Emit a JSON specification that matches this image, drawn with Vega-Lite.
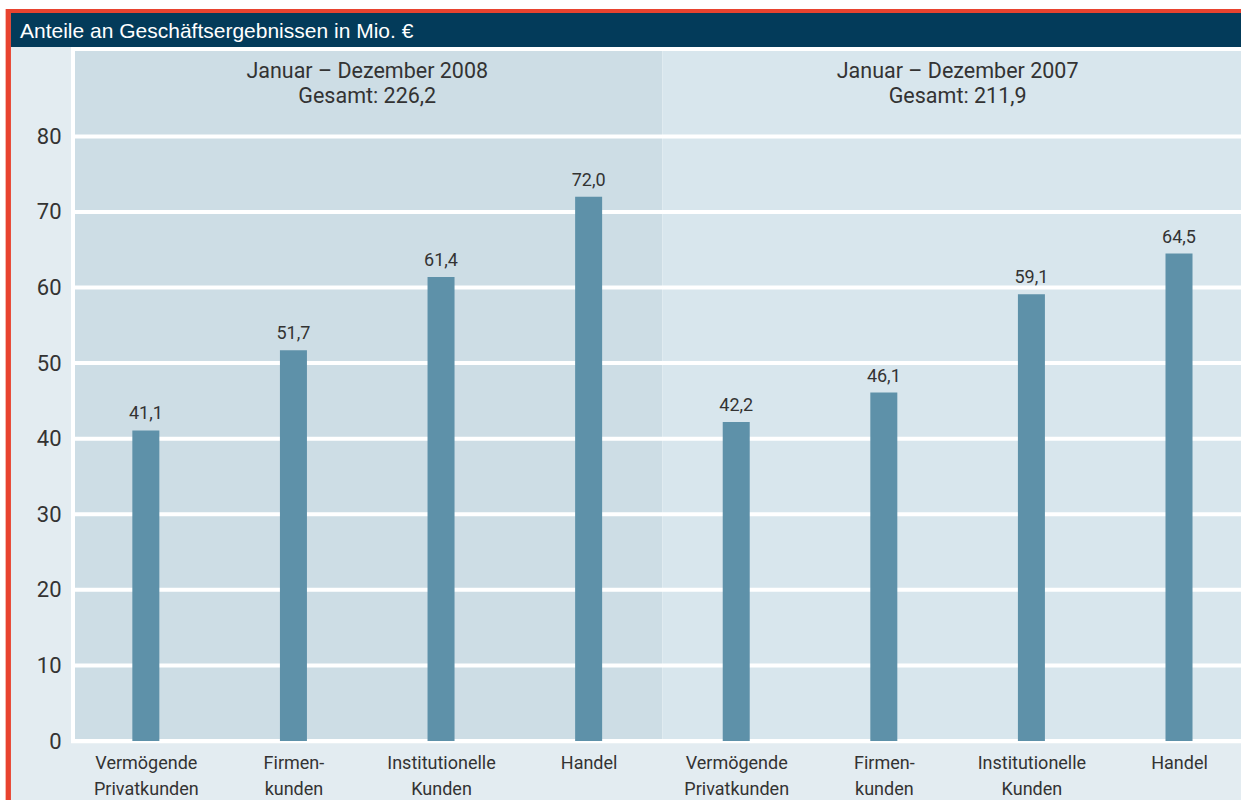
{
  "$schema": "https://vega.github.io/schema/vega-lite/v6.json",
  "autosize": "none",
  "width": 1166,
  "height": 690,
  "padding": {"left": 75, "top": 51, "right": 0, "bottom": 59},
  "background": "white",
  "config": {
    "view": {"stroke": null},
    "font": "Roboto",
    "scale": {"continuousPadding": 0},
    "locale": {"number": {"decimal": ",", "thousands": ".", "grouping": [3], "currency": ["", " €"]}}
  },
  "data": {"values": [
    {"period": "Januar – Dezember 2008", "segment": "Vermögende Privatkunden", "value": 41.1},
    {"period": "Januar – Dezember 2008", "segment": "Firmenkunden", "value": 51.7},
    {"period": "Januar – Dezember 2008", "segment": "Institutionelle Kunden", "value": 61.4},
    {"period": "Januar – Dezember 2008", "segment": "Handel", "value": 72.0},
    {"period": "Januar – Dezember 2007", "segment": "Vermögende Privatkunden", "value": 42.2},
    {"period": "Januar – Dezember 2007", "segment": "Firmenkunden", "value": 46.1},
    {"period": "Januar – Dezember 2007", "segment": "Institutionelle Kunden", "value": 59.1},
    {"period": "Januar – Dezember 2007", "segment": "Handel", "value": 64.5}
  ]},
  "transform": [
    {"window": [{"op": "row_number", "as": "n"}]},
    {"calculate": "datum.n - 1", "as": "pos"}
  ],
  "layer": [
    {
      "data": {"values": [{}]},
      "mark": {"type": "rect", "color": "#e8432f", "clip": false},
      "encoding": {
        "x": {"datum": -0.95, "scale": {"domain": [-0.48, 7.42], "nice": false, "zero": false, "padding": 0}},
        "x2": {"datum": 7.7},
        "y": {"datum": -8, "scale": {"domain": [0, 91.3], "nice": false, "zero": false}},
        "y2": {"datum": 96.85}
      }
    },
    {
      "data": {"values": [{}]},
      "mark": {"type": "rect", "color": "#e3ecf1", "clip": false},
      "encoding": {
        "x": {"datum": -0.914, "scale": {"domain": [-0.48, 7.42], "nice": false, "zero": false, "padding": 0}},
        "x2": {"datum": 7.7},
        "y": {"datum": -8, "scale": {"domain": [0, 91.3], "nice": false, "zero": false}},
        "y2": {"datum": 96.32}
      }
    },
    {
      "data": {"values": [{}]},
      "mark": {"type": "rect", "color": "#033b5a", "clip": false},
      "encoding": {
        "x": {"datum": -0.914, "scale": {"domain": [-0.48, 7.42], "nice": false, "zero": false, "padding": 0}},
        "x2": {"datum": 7.7},
        "y": {"datum": 91.82, "scale": {"domain": [0, 91.3], "nice": false, "zero": false}},
        "y2": {"datum": 96.32}
      }
    },
    {
      "data": {"values": [{}]},
      "mark": {"type": "rect", "color": "#ffffff", "clip": false},
      "encoding": {
        "x": {"datum": -0.507, "scale": {"domain": [-0.48, 7.42], "nice": false, "zero": false, "padding": 0}},
        "x2": {"datum": 7.7},
        "y": {"datum": -0.3, "scale": {"domain": [0, 91.3], "nice": false, "zero": false}},
        "y2": {"datum": 91.82}
      }
    },
    {
      "data": {"values": [{}]},
      "mark": {"type": "rect", "color": "#cddde5", "clip": false},
      "encoding": {
        "x": {"datum": -0.48, "scale": {"domain": [-0.48, 7.42], "nice": false, "zero": false, "padding": 0}},
        "x2": {"datum": 3.5},
        "y": {"datum": 0, "scale": {"domain": [0, 91.3], "nice": false, "zero": false}},
        "y2": {"datum": 91.3}
      }
    },
    {
      "data": {"values": [{}]},
      "mark": {"type": "rect", "color": "#d8e6ed", "clip": false},
      "encoding": {
        "x": {"datum": 3.5, "scale": {"domain": [-0.48, 7.42], "nice": false, "zero": false, "padding": 0}},
        "x2": {"datum": 7.7},
        "y": {"datum": 0, "scale": {"domain": [0, 91.3], "nice": false, "zero": false}},
        "y2": {"datum": 91.3}
      }
    },
    {
      "data": {"values": [{"g": 0}, {"g": 10}, {"g": 20}, {"g": 30}, {"g": 40}, {"g": 50}, {"g": 60}, {"g": 70}, {"g": 80}]},
      "mark": {"type": "rule", "color": "#ffffff", "strokeWidth": 4, "clip": false},
      "encoding": {
        "x": {"datum": -0.48, "scale": {"domain": [-0.48, 7.42], "nice": false, "zero": false, "padding": 0}},
        "x2": {"datum": 7.7},
        "y": {"field": "g", "type": "quantitative", "scale": {"domain": [0, 91.3], "nice": false, "zero": false}}
      }
    },
    {
      "mark": {"type": "bar", "orient": "vertical", "width": 27, "color": "#5e91a9"},
      "encoding": {
        "x": {
          "field": "pos", "type": "quantitative", "title": null,
          "scale": {"domain": [-0.48, 7.42], "nice": false, "zero": false, "padding": 0},
          "axis": {
            "values": [0, 1, 2, 3, 4, 5, 6, 7],
            "labelExpr": "split(['Vermögende|Privatkunden','Firmen-|kunden','Institutionelle|Kunden','Handel','Vermögende|Privatkunden','Firmen-|kunden','Institutionelle|Kunden','Handel'][datum.value], '|')",
            "domain": false, "ticks": false, "grid": false, "zindex": 1,
            "labelFontSize": 18, "labelColor": "#333333", "labelFont": "Roboto",
            "labelBaseline": "alphabetic", "labelPadding": 27, "labelLineHeight": 26.7,
            "labelFlush": false, "labelOverlap": false, "labelAlign": "center"
          }
        },
        "y": {
          "field": "value", "type": "quantitative", "title": null,
          "scale": {"domain": [0, 91.3], "nice": false, "zero": false},
          "axis": {
            "values": [0, 10, 20, 30, 40, 50, 60, 70, 80],
            "domain": false, "ticks": false, "grid": false, "zindex": 1,
            "labelFontSize": 22, "labelColor": "#333333", "labelFont": "Roboto",
            "labelPadding": 14, "labelBaseline": "alphabetic", "labelOffset": 7
          }
        }
      }
    },
    {
      "mark": {"type": "text", "fontSize": 18, "color": "#333333", "baseline": "alphabetic", "dy": -11, "align": "center"},
      "encoding": {
        "x": {"field": "pos", "type": "quantitative", "scale": {"domain": [-0.48, 7.42], "nice": false, "zero": false, "padding": 0}},
        "y": {"field": "value", "type": "quantitative", "scale": {"domain": [0, 91.3], "nice": false, "zero": false}},
        "text": {"field": "value", "type": "quantitative", "format": ".1f"}
      }
    },
    {
      "transform": [
        {"aggregate": [{"op": "mean", "field": "pos", "as": "center"}, {"op": "sum", "field": "value", "as": "total"}], "groupby": ["period"]},
        {"calculate": "datum.period + '\\n' + 'Gesamt: ' + replace(format(datum.total, '.1f'), '.', ',')", "as": "header"}
      ],
      "mark": {"type": "text", "fontSize": 21.5, "color": "#333333", "baseline": "alphabetic", "align": "center", "lineBreak": "\n", "lineHeight": 25},
      "encoding": {
        "x": {"field": "center", "type": "quantitative", "scale": {"domain": [-0.48, 7.42], "nice": false, "zero": false, "padding": 0}},
        "y": {"datum": 87.68, "scale": {"domain": [0, 91.3], "nice": false, "zero": false}},
        "text": {"field": "header", "type": "nominal"}
      }
    },
    {
      "data": {"values": [{}]},
      "mark": {"type": "text", "fontSize": 21, "font": "Liberation Sans", "color": "#ffffff", "baseline": "alphabetic", "align": "left", "clip": false},
      "encoding": {
        "x": {"datum": -0.853, "scale": {"domain": [-0.48, 7.42], "nice": false, "zero": false, "padding": 0}},
        "y": {"datum": 92.97, "scale": {"domain": [0, 91.3], "nice": false, "zero": false}},
        "text": {"value": "Anteile an Geschäftsergebnissen in Mio. €"}
      }
    }
  ]
}
